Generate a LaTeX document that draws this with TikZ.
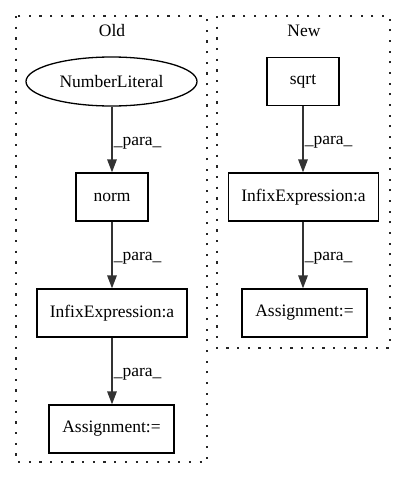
\documentclass[tikz,border=0pt]{standalone}
\usepackage{fontspec}
\setmainfont{Liberation Serif}
\usetikzlibrary{arrows.meta,shapes.geometric}
\begin{document}
\begin{tikzpicture}[x=1pt,y=-1pt,
  every node/.style={font=\fontsize{17.5}{20}\selectfont, inner sep=0pt},
  box/.style={draw=black, line width=1.3pt, rectangle, minimum height=48pt, anchor=center},
  oval/.style={draw=black, line width=1.3pt, ellipse, minimum height=49pt, minimum width=171pt},
  cluster/.style={draw=black!85, line width=1.1pt, dash pattern=on 2.2pt off 8.47pt},
  edge/.style={draw=black!80, line width=1.6pt, -{Triangle[length=13pt,width=9.5pt]}, shorten >=0pt},
  elabel/.style={anchor=west}]
\useasboundingbox (0,0) rectangle (405,480);
% clusters
\draw[cluster] (16,16) rectangle (207,462);
\draw[cluster] (217,16) rectangle (390,348);
\node (oldlbl) at (112,31) {Old};
\node (newlbl) at (304,31) {New};
% Old
\node[oval] (num) at (111.5,81.5) {NumberLiteral};
\node[box, minimum width=72pt] (norm) at (112,197) {norm};
\node[box, minimum width=150pt] (infixo) at (112,313) {InfixExpression:a};
\node[box, minimum width=125pt] (assigno) at (111.5,429) {Assignment:=};
% New
\node[box, minimum width=72pt] (sqrt) at (303,81.5) {sqrt};
\node[box, minimum width=150pt] (infixn) at (303.5,197) {InfixExpression:a};
\node[box, minimum width=125pt] (assignn) at (304.5,313) {Assignment:=};
% edges
\draw[edge] (num.south -| norm) -- (norm.north) node[elabel, pos=0.55, xshift=1pt] (l1) {\_para\_};
\draw[edge] (norm) -- (infixo) node[elabel, pos=0.55, xshift=1pt] (l2) {\_para\_};
\draw[edge] (infixo) -- (assigno.north -| infixo) node[elabel, pos=0.55, xshift=1pt] (l3) {\_para\_};
\draw[edge] (sqrt) -- (sqrt |- infixn.north) node[elabel, pos=0.55, xshift=1pt] (l4) {\_para\_};
\draw[edge] (infixn.south -| sqrt) -- (sqrt |- assignn.north) node[elabel, pos=0.55, xshift=1pt] (l5) {\_para\_};
\end{tikzpicture}
\end{document}
